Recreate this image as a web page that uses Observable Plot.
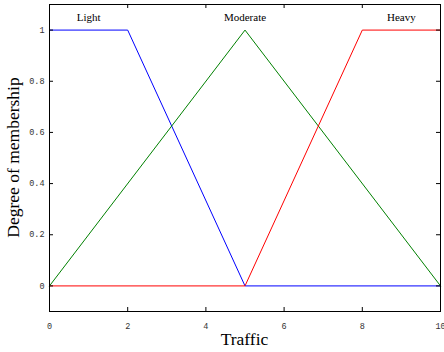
<!DOCTYPE html>
<html>
<head>
<meta charset="utf-8">
<script src="https://cdn.jsdelivr.net/npm/d3@7"></script>
<script src="https://cdn.jsdelivr.net/npm/@observablehq/plot@0.6"></script>
<style>
  html, body { margin: 0; padding: 0; background: #fff; }
  #chart { width: 444px; height: 352px; }
</style>
</head>
<body>
<div id="chart"></div>
<script>
// Membership functions of the "Traffic" input (breakpoints)
const mfNames = ["Light", "Moderate", "Heavy"];
const mfColors = ["#0000ff", "#008000", "#ff0000"];
const lightX = [0, 2, 5, 10];
const lightY = [1, 1, 0, 0];
const moderateX = [0, 5, 10];
const moderateY = [0, 1, 0];
const heavyX = [0, 5, 8, 10];
const heavyY = [0, 0, 1, 1];
const xTicks = [0, 2, 4, 6, 8, 10];
const yTicks = [0, 0.2, 0.4, 0.6, 0.8, 1];

const mfs = [
  {name: mfNames[0], xs: lightX, ys: lightY},
  {name: mfNames[1], xs: moderateX, ys: moderateY},
  {name: mfNames[2], xs: heavyX, ys: heavyY}
];

// one row per breakpoint, tagged with its membership function
const rows = mfs.flatMap(m => m.xs.map((x, i) => ({name: m.name, x, y: m.ys[i]})));

// label each function at the middle of its plateau (where membership is 1)
const labels = mfs.map(m => {
  const top = m.xs.filter((x, i) => m.ys[i] === 1);
  return {name: m.name, x: (d3.min(top) + d3.max(top)) / 2, y: 1.05};
});

const W = 444, H = 352;
const mL = 49, mR = 4, mT = 4, mB = 41;
const innerW = W - mL - mR, innerH = H - mT - mB;
const tick = 4;

const mono = "'Liberation Mono', 'DejaVu Sans Mono', monospace";
const serif = "'Liberation Serif', 'DejaVu Serif', serif";
const fmt = d => String(d);

const chart = Plot.plot({
  width: W,
  height: H,
  marginLeft: mL,
  marginRight: mR,
  marginTop: mT,
  marginBottom: mB,
  style: {fontFamily: mono, fontSize: "8.5px", color: "#000", background: "#fff"},
  x: {domain: [0, 10]},
  y: {domain: [-0.1, 1.1]},
  color: {domain: mfNames, range: mfColors},
  marks: [
    Plot.line(rows, {x: "x", y: "y", z: "name", stroke: "name", strokeWidth: 1}),
    Plot.text(labels, {x: "x", y: "y", text: "name", fontFamily: serif, fontSize: 11, fill: "#000"}),
    Plot.frame({stroke: "#000", strokeWidth: 1}),
    // inward ticks on all four sides of the box
    Plot.tickX(xTicks, {x: d => d, insetTop: innerH - tick, stroke: "#000"}),
    Plot.tickX(xTicks, {x: d => d, insetBottom: innerH - tick, stroke: "#000"}),
    Plot.tickY(yTicks, {y: d => d, insetRight: innerW - tick, stroke: "#000"}),
    Plot.tickY(yTicks, {y: d => d, insetLeft: innerW - tick, stroke: "#000"}),
    Plot.axisX(xTicks, {anchor: "bottom", tickSize: 0, tickPadding: 11, tickFormat: fmt, label: null, fill: "#333"}),
    Plot.axisY(yTicks, {anchor: "left", tickSize: 0, tickPadding: 5, tickFormat: fmt, label: null, fill: "#333"})
  ]
});

const svg = d3.select(chart);
// axis titles in serif type
svg.append("text")
  .attr("x", mL + innerW / 2)
  .attr("y", 345)
  .attr("text-anchor", "middle")
  .attr("font-family", serif)
  .attr("font-size", 17.5)
  .text("Traffic");
svg.append("text")
  .attr("transform", `translate(19, ${mT + innerH / 2}) rotate(-90)`)
  .attr("text-anchor", "middle")
  .attr("font-family", serif)
  .attr("font-size", 17.5)
  .text("Degree of membership");

document.getElementById("chart").appendChild(chart);
</script>
</body>
</html>
